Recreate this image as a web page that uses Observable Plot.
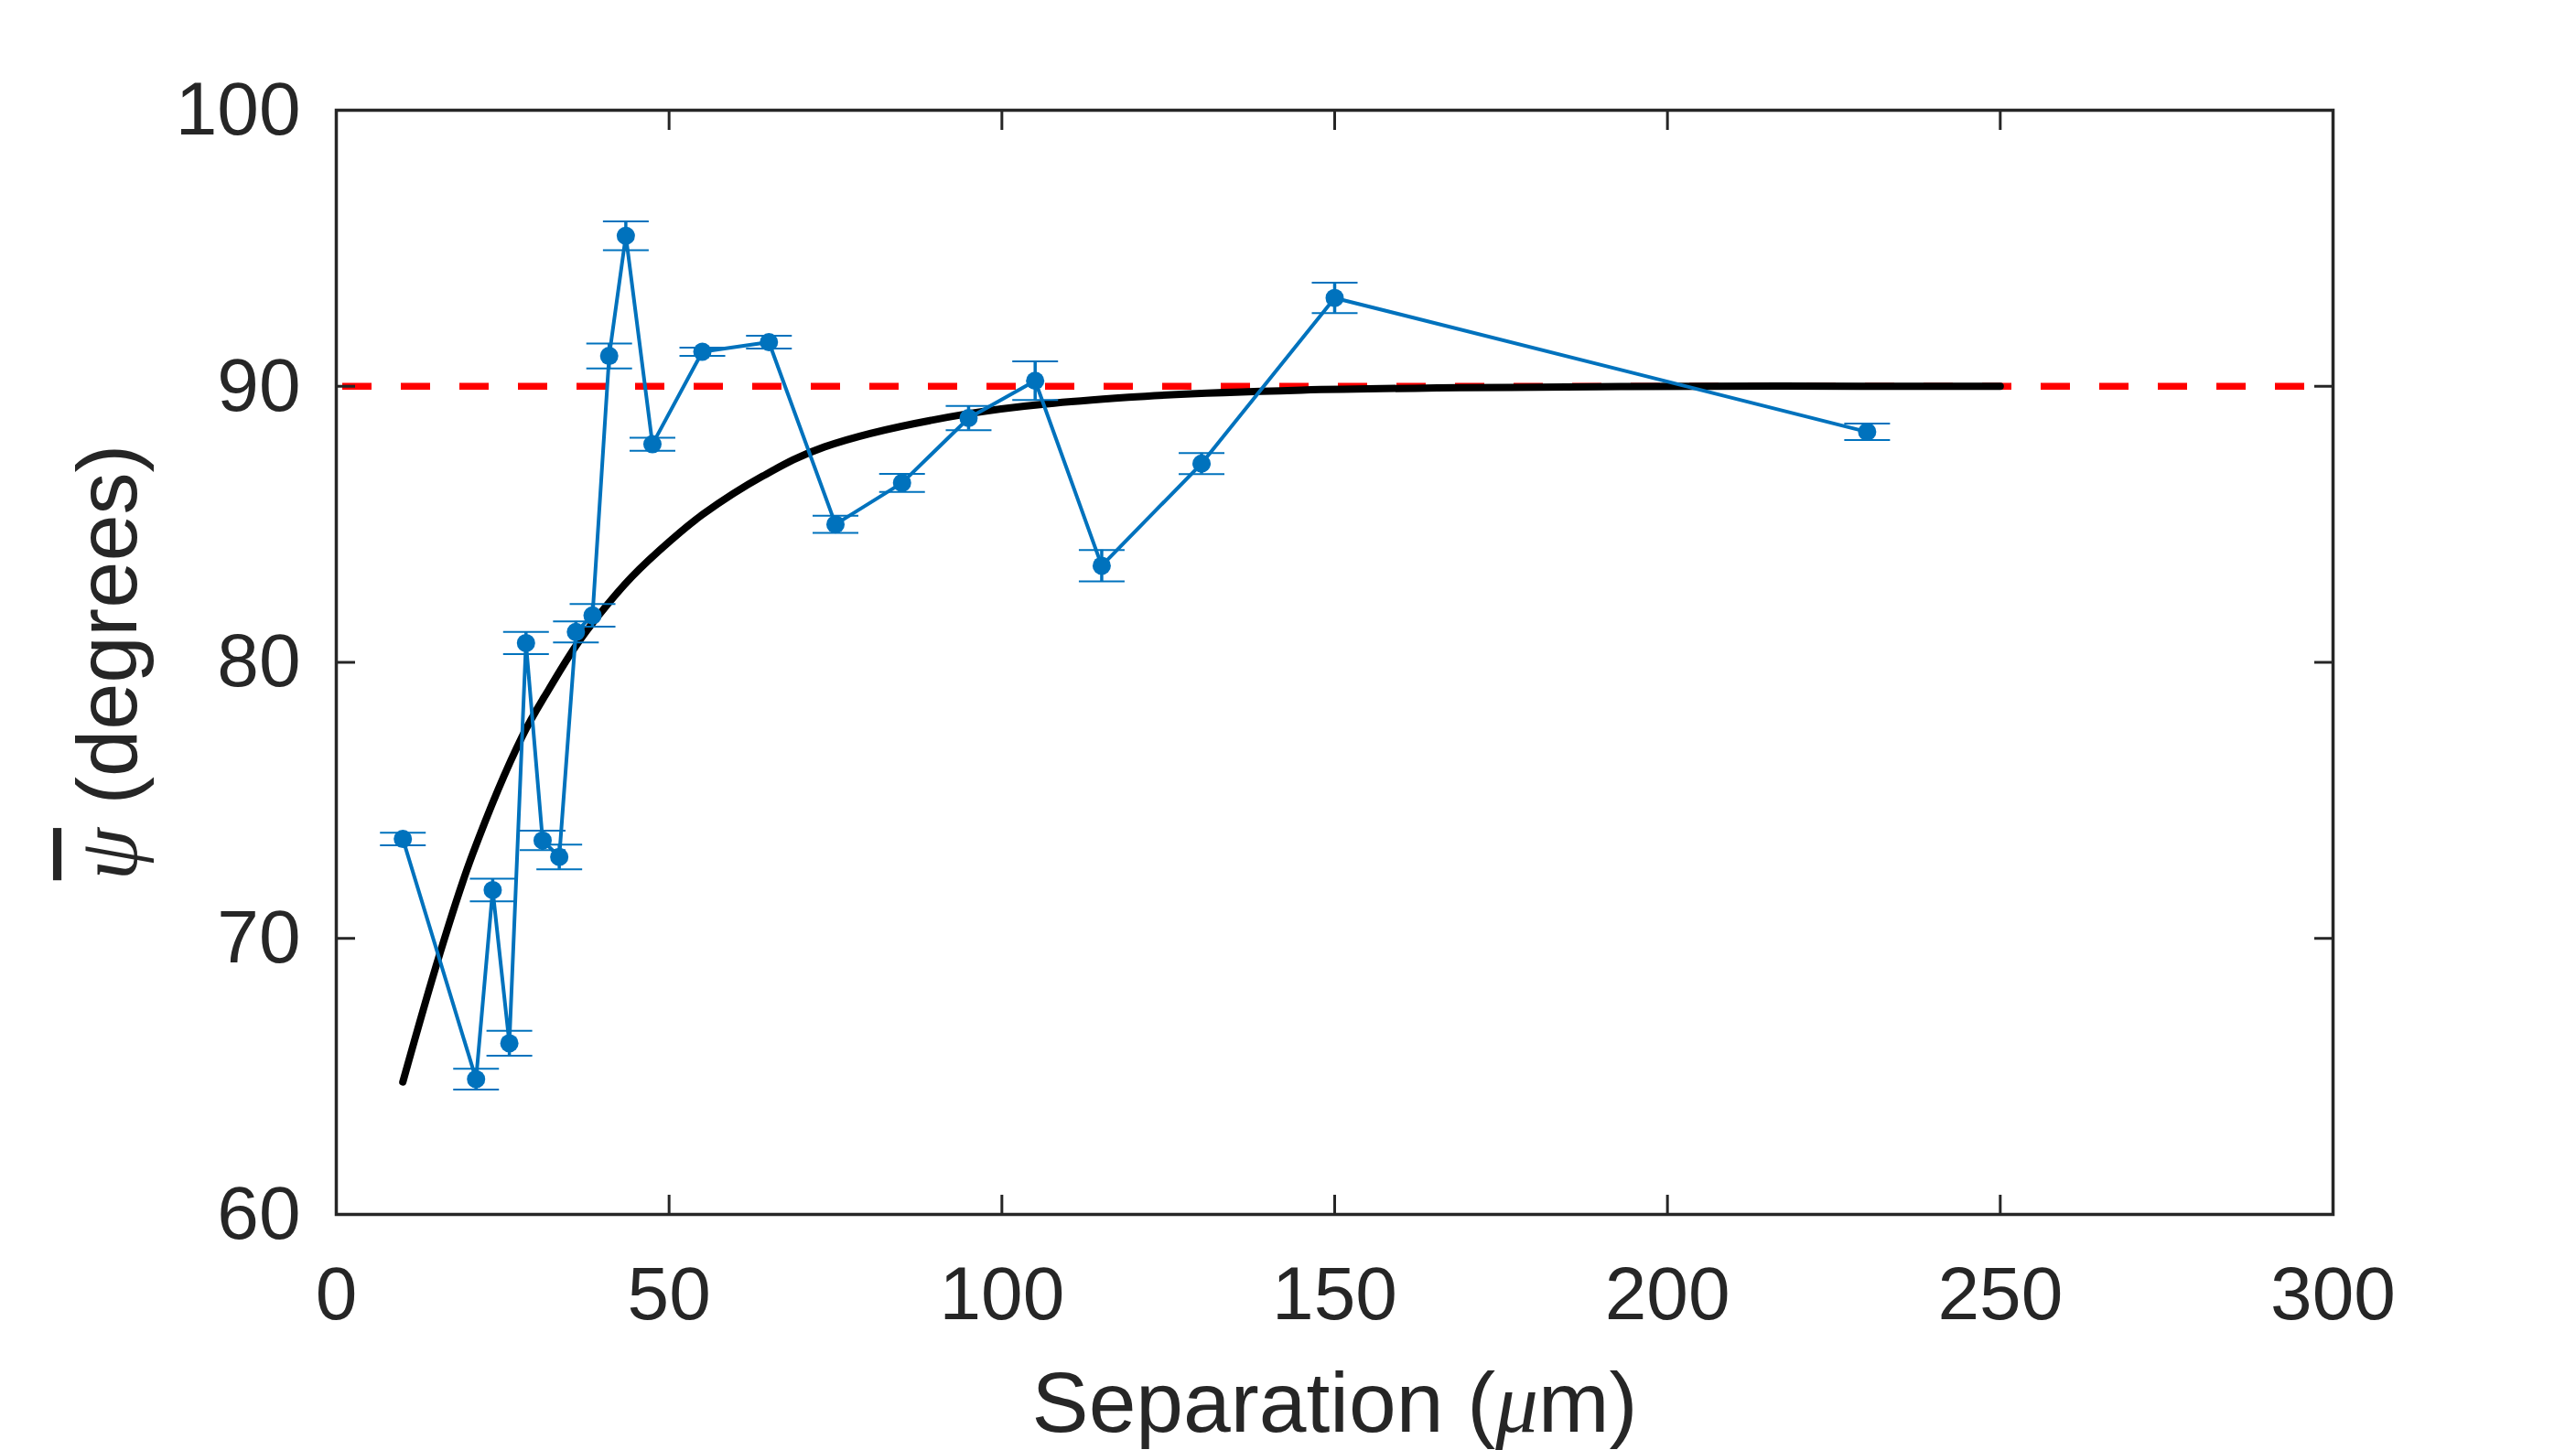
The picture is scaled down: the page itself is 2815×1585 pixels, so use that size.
<!DOCTYPE html>
<html>
<head>
<meta charset="utf-8">
<script src="https://cdn.jsdelivr.net/npm/d3@7"></script>
<script src="https://cdn.jsdelivr.net/npm/@observablehq/plot@0.6"></script>
<style>
  html, body { margin: 0; padding: 0; background: #ffffff; }
  #chart { width: 2815px; height: 1585px; }
</style>
</head>
<body>
<div id="chart"></div>
<script>
// ---- data ----
const separation = [10, 21, 23.5, 26, 28.5, 31, 33.5, 36, 38.5, 41, 43.5, 47.5, 55, 65, 75, 85, 95, 105, 115, 130, 150, 230];
const psiMean    = [73.6, 64.9, 71.75, 66.2, 80.7, 73.55, 72.95, 81.1, 81.7, 91.1, 95.45, 87.9, 91.25, 91.6, 85.0, 86.5, 88.85, 90.2, 83.5, 87.2, 93.2, 88.35];
const psiErr     = [0.23, 0.38, 0.41, 0.45, 0.4, 0.35, 0.45, 0.38, 0.41, 0.45, 0.52, 0.24, 0.15, 0.23, 0.31, 0.33, 0.44, 0.7, 0.57, 0.38, 0.55, 0.3];

const fitSeparation = [10, 15.5, 20.4, 27.9, 32, 36, 39.4, 44.4, 50.4, 55, 64.1, 73.3, 94.8, 119, 145, 193, 250];
const fitPsi        = [64.8, 69.4, 73.0, 77.3, 79.05, 80.6, 81.7, 83.1, 84.45, 85.35, 86.75, 87.8, 89.0, 89.6, 89.86, 89.99, 90.0];

const referenceLevel = [90];
const xTicks = [0, 50, 100, 150, 200, 250, 300];
const yTicks = [60, 70, 80, 90, 100];
const xLabel = "Separation (μm)";
const yLabel = "ψ (degrees)";

// ---- build ----
const points = separation.map((x, i) => ({x, y: psiMean[i], e: psiErr[i]}));
const fit = fitSeparation.map((x, i) => ({x, y: fitPsi[i]}));

const ink = "#262626";
const blue = "#0072BD";
const capSymbol = { draw(ctx) { ctx.moveTo(-25, 0); ctx.lineTo(25, 0); } };

const svg = Plot.plot({
  width: 2815,
  height: 1585,
  marginLeft: 367,
  marginRight: 266,
  marginTop: 120,
  marginBottom: 258,
  style: {fontFamily: "'Liberation Sans', Arial, Helvetica, sans-serif", fontSize: "82px", color: ink, background: "#ffffff"},
  x: {domain: [0, 300]},
  y: {domain: [60, 100]},
  marks: [
    Plot.ruleY(referenceLevel, {y: d => d, stroke: "#FF0000", strokeWidth: 7.5, strokeDasharray: "32,32", strokeDashoffset: 57}),
    Plot.line(fit, {x: "x", y: "y", stroke: "#000000", strokeWidth: 8, curve: "catmull-rom"}),
    Plot.ruleX(points, {x: "x", y1: d => d.y - d.e, y2: d => d.y + d.e, stroke: blue, strokeWidth: 3.5}),
    Plot.dot(points, {x: "x", y: d => d.y + d.e, symbol: capSymbol, stroke: blue, strokeWidth: 2, fill: "none"}),
    Plot.dot(points, {x: "x", y: d => d.y - d.e, symbol: capSymbol, stroke: blue, strokeWidth: 2, fill: "none"}),
    Plot.line(points, {x: "x", y: "y", stroke: blue, strokeWidth: 4}),
    Plot.dot(points, {x: "x", y: "y", r: 10, fill: blue, stroke: "none"}),
    Plot.frame({stroke: ink, strokeWidth: 3.5}),
    // inward ticks on all four sides
    Plot.axisX({anchor: "bottom", ticks: xTicks, tickSize: 21, dy: -21, fill: "none", stroke: ink, strokeWidth: 3, label: null}),
    Plot.axisX({anchor: "top", ticks: xTicks, tickSize: 21, dy: 21, fill: "none", stroke: ink, strokeWidth: 3, label: null}),
    Plot.axisY({anchor: "left", ticks: yTicks, tickSize: 21, dx: 21, fill: "none", stroke: ink, strokeWidth: 3, label: null}),
    Plot.axisY({anchor: "right", ticks: yTicks, tickSize: 21, dx: -21, fill: "none", stroke: ink, strokeWidth: 3, label: null}),
    // tick labels
    Plot.axisX({anchor: "bottom", ticks: xTicks, tickSize: 0, tickPadding: 56, fontSize: 82, fill: ink, label: null}),
    Plot.axisY({anchor: "left", ticks: yTicks, tickSize: 0, tickPadding: 39, fontSize: 82, fill: ink, label: null}),
    // axis titles
    Plot.text([xLabel], {frameAnchor: "bottom", text: d => d, dy: 208, fontSize: 93, fill: ink, lineAnchor: "middle", textAnchor: "middle"}),
    Plot.text([yLabel], {frameAnchor: "left", text: d => d, rotate: -90, dx: -248, fontSize: 92, fill: ink, lineAnchor: "middle", textAnchor: "middle"})
  ]
});

document.getElementById("chart").appendChild(svg);

// style the math symbols (italic serif psi with overline, italic mu)
const serif = "'Liberation Serif', 'DejaVu Serif', serif";
function findTitle(content) {
  let found = null;
  svg.querySelectorAll("text").forEach(t => { if (t.textContent === content) found = t; });
  return found;
}
const ytNode = findTitle(yLabel);
if (ytNode) {
  const yt = d3.select(ytNode);
  yt.text(null);
  yt.append("tspan").attr("font-family", serif).attr("font-style", "italic")
    .attr("text-decoration", "overline").style("text-decoration", "overline").text("ψ");
  yt.append("tspan").text(" (degrees)");
}
const xtNode = findTitle(xLabel);
if (xtNode) {
  const xt = d3.select(xtNode);
  xt.text(null);
  xt.append("tspan").text("Separation (");
  xt.append("tspan").attr("font-family", serif).attr("font-style", "italic").text("μ");
  xt.append("tspan").text("m)");
}
</script>
</body>
</html>
